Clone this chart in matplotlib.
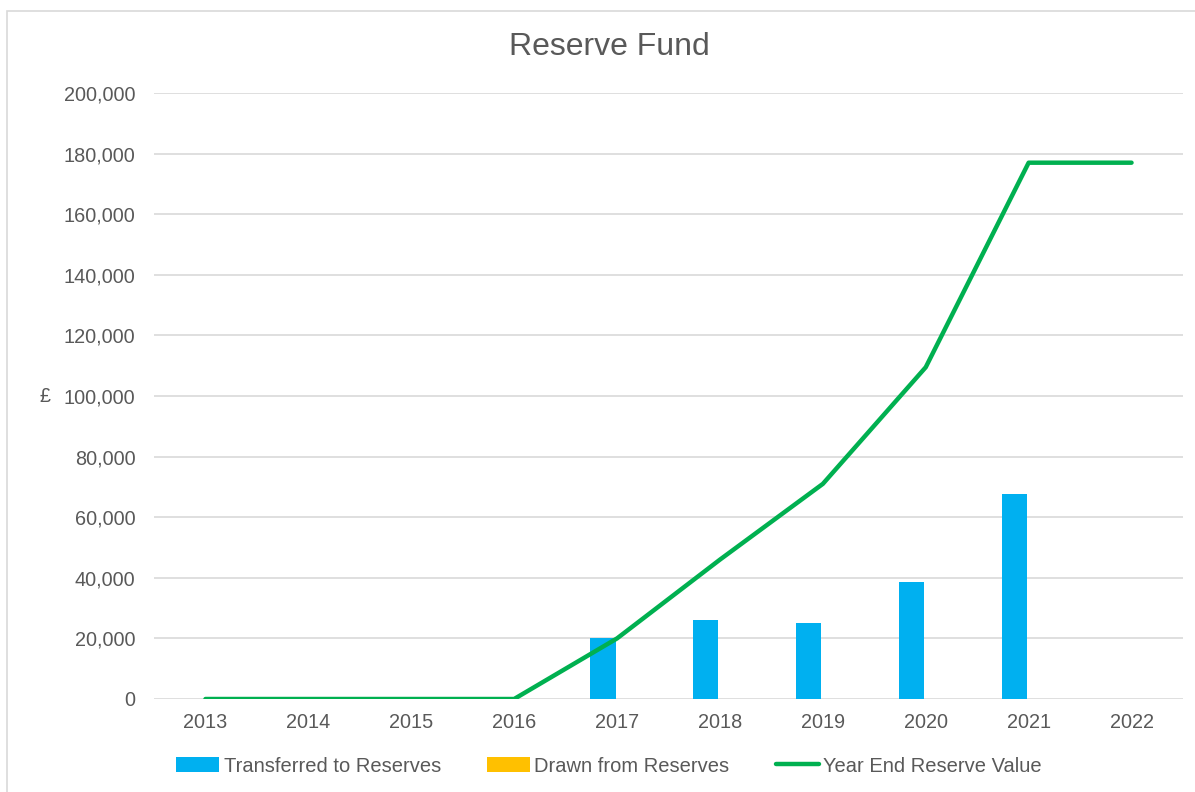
import matplotlib
matplotlib.use("Agg")
import matplotlib.pyplot as plt
from matplotlib.patches import Rectangle
from matplotlib.ticker import FuncFormatter
import numpy as np

years = ["2013", "2014", "2015", "2016", "2017", "2018", "2019", "2020", "2021", "2022"]
transferred = [0, 0, 0, 0, 20000, 26000, 25000, 38500, 67500, 0]
drawn = [0, 0, 0, 0, 0, 0, 0, 0, 0, 0]
year_end = [0, 0, 0, 0, 20000, 46000, 71000, 109500, 177000, 177000]

plt.rcParams['font.family'] = ['Liberation Sans', 'DejaVu Sans']
TXT = '#595959'

W, H = 1195, 792
fig = plt.figure(figsize=(W / 100, H / 100), dpi=100)
fig.patch.set_facecolor('white')

# chart border
fig.patches.append(Rectangle((7 / W, -0.05), 1.2, 1.05 - 11 / H, transform=fig.transFigure,
                             fill=False, edgecolor='#D9D9D9', linewidth=1.2))

ax = fig.add_axes([154 / W, 1 - 699 / H, (1183 - 154) / W, (699 - 93) / H])
x = np.arange(len(years))
w = 0.245
b1 = ax.bar(x - 0.137, transferred, width=w, color='#00B0F0', label='Transferred to Reserves', zorder=2)
b2 = ax.bar(x - 0.137 + w, drawn, width=w, color='#FFC000', label='Drawn from Reserves', zorder=2)
l1, = ax.plot(x, year_end, color='#00B050', linewidth=3.2, label='Year End Reserve Value',
              solid_capstyle='round', solid_joinstyle='round', zorder=3)

ax.set_xlim(-0.5, len(years) - 0.5)
ax.set_ylim(0, 200000)
ax.set_yticks(np.arange(0, 200001, 20000))
ax.yaxis.set_major_formatter(FuncFormatter(lambda v, p: f"{int(v):,}"))
ax.set_xticks(x)
ax.set_xticklabels(years)
ax.grid(axis='y', color='#D9D9D9', linewidth=1.2, zorder=0)
ax.set_axisbelow(True)
for s in ax.spines.values():
    s.set_visible(False)
ax.tick_params(axis='both', length=0, labelsize=14.3, colors=TXT)
ax.tick_params(axis='y', pad=13.5)
ax.tick_params(axis='x', pad=10)

fig.text(609 / W, 1 - 47 / H, 'Reserve Fund', ha='center', va='center', fontsize=23, color=TXT)
fig.text(45 / W, 1 - 397 / H, '£', ha='center', va='center', fontsize=14.3, color=TXT)

leg = fig.legend([b1, b2, l1],
                 ['Transferred to Reserves', 'Drawn from Reserves', 'Year End Reserve Value'],
                 loc='center', bbox_to_anchor=(609 / W, 1 - 766 / H),
                 ncol=3, frameon=False, fontsize=14.5, handlelength=2.15, handleheight=0.7,
                 handletextpad=0.2, columnspacing=2.3, labelcolor=TXT)

fig.savefig('out.png', dpi=100, facecolor='white')
